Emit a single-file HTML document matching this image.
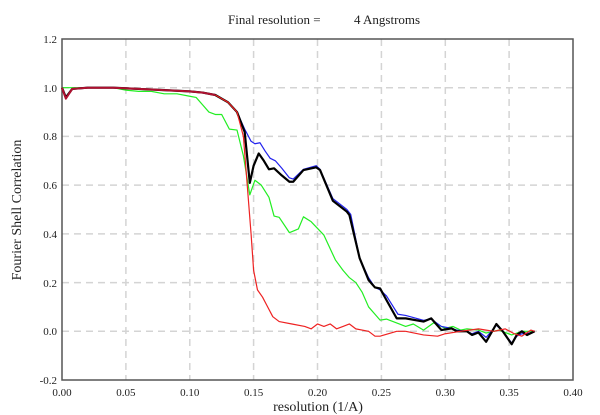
<!DOCTYPE html>
<html><head><style>body{margin:0;background:#fff}svg{display:block}text{font-family:"Liberation Serif",serif;fill:#222}</style></head><body>
<svg width="600" height="415" viewBox="0 0 600 415">
<rect width="600" height="415" fill="#fff"/>
<g stroke="#d4d4d4" stroke-width="1.5" stroke-dasharray="7,5">
<line x1="125.9" y1="39" x2="125.9" y2="380"/><line x1="189.8" y1="39" x2="189.8" y2="380"/><line x1="253.6" y1="39" x2="253.6" y2="380"/><line x1="317.5" y1="39" x2="317.5" y2="380"/><line x1="381.4" y1="39" x2="381.4" y2="380"/><line x1="445.3" y1="39" x2="445.3" y2="380"/><line x1="509.1" y1="39" x2="509.1" y2="380"/>
<line x1="62" y1="87.7" x2="573" y2="87.7"/><line x1="62" y1="136.4" x2="573" y2="136.4"/><line x1="62" y1="185.1" x2="573" y2="185.1"/><line x1="62" y1="233.9" x2="573" y2="233.9"/><line x1="62" y1="282.6" x2="573" y2="282.6"/><line x1="62" y1="331.3" x2="573" y2="331.3"/>
</g>
<rect x="62" y="39" width="511" height="341" fill="none" stroke="#555" stroke-width="1.5"/>
<g font-size="11" text-anchor="end">
<text x="57" y="43">1.2</text><text x="57" y="92">1.0</text><text x="57" y="140">0.8</text><text x="57" y="189">0.6</text><text x="57" y="238">0.4</text><text x="57" y="287">0.2</text><text x="57" y="335">0.0</text><text x="57" y="384">-0.2</text>
</g>
<g font-size="11" text-anchor="middle">
<text x="62" y="396">0.00</text><text x="125.9" y="396">0.05</text><text x="189.8" y="396">0.10</text><text x="253.6" y="396">0.15</text><text x="317.5" y="396">0.20</text><text x="381.4" y="396">0.25</text><text x="445.3" y="396">0.30</text><text x="509.1" y="396">0.35</text><text x="573" y="396">0.40</text>
</g>
<text x="318" y="411" font-size="14" text-anchor="middle">resolution (1/A)</text>
<text transform="translate(21,210) rotate(-90)" font-size="14" text-anchor="middle">Fourier Shell Correlation</text>
<text x="228" y="24" font-size="13">Final resolution =</text><text x="354" y="24" font-size="13">4 Angstroms</text>
<g transform="translate(62,331.3) scale(1277.5,-243.6)" fill="none" stroke-linejoin="round">
<polyline vector-effect="non-scaling-stroke" stroke="#22ee22" stroke-width="1.2" points="0,1 0.01,1 0.04,1 0.05,0.99 0.06,0.985 0.07,0.985 0.08,0.975 0.09,0.975 0.1,0.965 0.105,0.96 0.11,0.93 0.115,0.9 0.12,0.89 0.125,0.89 0.131,0.83 0.137,0.826 0.142,0.72 0.147,0.56 0.151,0.62 0.156,0.6 0.162,0.55 0.166,0.473 0.17,0.468 0.178,0.405 0.185,0.42 0.189,0.47 0.195,0.45 0.205,0.395 0.214,0.293 0.22,0.25 0.225,0.22 0.23,0.2 0.235,0.16 0.24,0.1 0.245,0.07 0.249,0.046 0.254,0.05 0.264,0.03 0.269,0.02 0.275,0.03 0.283,0.005 0.291,0.035 0.3,0.012 0.306,0.02 0.312,0.005 0.317,0.01 0.326,0.005 0.332,-0.007 0.342,0.005 0.352,-0.015 0.36,0 0.37,0"/>
<polyline vector-effect="non-scaling-stroke" stroke="#2222ee" stroke-width="1.2" points="0,1 0.003,0.96 0.008,0.995 0.02,1 0.04,1 0.06,0.995 0.08,0.99 0.1,0.985 0.11,0.98 0.12,0.97 0.13,0.94 0.137,0.9 0.143,0.83 0.148,0.78 0.151,0.77 0.155,0.774 0.159,0.74 0.163,0.71 0.167,0.7 0.172,0.67 0.178,0.63 0.181,0.625 0.189,0.665 0.199,0.68 0.202,0.665 0.212,0.545 0.223,0.5 0.226,0.48 0.233,0.3 0.24,0.22 0.245,0.18 0.249,0.17 0.254,0.145 0.263,0.07 0.269,0.065 0.283,0.045 0.289,0.05 0.297,0.02 0.305,0.012 0.309,0.005 0.317,0 0.321,-0.01 0.326,0 0.332,-0.025 0.34,0.025 0.345,0 0.352,-0.048 0.356,-0.02 0.36,-0.01 0.364,-0.01 0.37,0"/>
<polyline vector-effect="non-scaling-stroke" stroke="#000" stroke-width="2.2" points="0,1 0.003,0.96 0.008,0.995 0.02,1 0.04,1 0.06,0.995 0.08,0.99 0.1,0.985 0.11,0.98 0.12,0.97 0.13,0.94 0.137,0.9 0.143,0.818 0.147,0.609 0.15,0.68 0.154,0.73 0.158,0.7 0.162,0.665 0.166,0.669 0.172,0.64 0.178,0.614 0.181,0.614 0.189,0.662 0.199,0.673 0.202,0.662 0.212,0.536 0.223,0.491 0.225,0.477 0.233,0.3 0.24,0.21 0.245,0.18 0.249,0.176 0.254,0.128 0.262,0.053 0.269,0.053 0.283,0.04 0.289,0.053 0.297,0.005 0.305,0.012 0.309,0 0.317,0 0.321,-0.015 0.326,-0.005 0.332,-0.043 0.34,0.03 0.345,0 0.352,-0.053 0.356,-0.015 0.36,0 0.364,-0.015 0.37,0"/>
<polyline vector-effect="non-scaling-stroke" stroke="#ee2222" stroke-width="1.2" points="0.12,0.97 0.13,0.94 0.137,0.9 0.142,0.8 0.145,0.6 0.148,0.4 0.15,0.25 0.153,0.17 0.157,0.14 0.16,0.11 0.165,0.06 0.17,0.04 0.18,0.03 0.19,0.02 0.195,0.01 0.2,0.03 0.205,0.02 0.21,0.03 0.215,0.01 0.22,0.02 0.225,0.03 0.23,0.01 0.24,0 0.245,-0.02 0.249,-0.02 0.262,0 0.269,0 0.283,-0.015 0.294,-0.02 0.3,-0.01 0.312,0 0.326,0.01 0.338,0 0.347,0.01 0.354,-0.01 0.36,-0.02 0.367,0.005 0.37,0"/>
<polyline vector-effect="non-scaling-stroke" stroke="#b01030" stroke-width="2" points="0,1 0.003,0.955 0.008,0.995 0.02,1 0.04,1 0.06,0.995 0.08,0.99 0.1,0.985 0.11,0.98 0.12,0.97"/>
</g>
</svg>
</body></html>
